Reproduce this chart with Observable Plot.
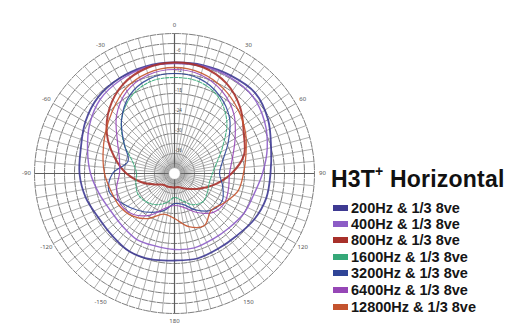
<!DOCTYPE html>
<html>
<head>
<meta charset="utf-8">
<script src="https://cdn.jsdelivr.net/npm/d3@7"></script>
<script src="https://cdn.jsdelivr.net/npm/@observablehq/plot@0.6"></script>
<style>
  html, body { margin: 0; padding: 0; background: #fff; }
  #wrap { position: relative; width: 508px; height: 325px; overflow: hidden; font-family: "Liberation Sans", Arial, sans-serif; }
  #title { position: absolute; left: 331px; top: 166px; font-size: 23px; font-weight: bold; color: #111; white-space: nowrap; letter-spacing: 0.2px; }
  #title sup { font-size: 14px; position: relative; top: -3px; vertical-align: top; }
  .row { position: absolute; left: 333px; height: 16px; display: flex; align-items: center; white-space: nowrap; font-size: 14.5px; font-weight: bold; color: #151515; }
  .sw { width: 15px; height: 6px; margin-right: 3px; }
</style>
</head>
<body>
<div id="wrap"></div>
<script>
// Angles (degrees, clockwise from front/top)
const angles = [0,15,30,45,60,75,90,105,120,135,150,165,180,195,210,225,240,255,270,285,300,315,330,345];

// Series (dB, relative; center of chart = -42 dB, outer ring = 0 dB)
const s200   = [-8.7,-8.4,-8.1,-7.8,-9.6,-12.0,-13.2,-13.5,-14.4,-15.6,-15.9,-15.6,-15.9,-15.3,-15.0,-15.6,-15.6,-14.4,-13.5,-12.9,-11.1,-9.6,-9.0,-8.7];
const s400   = [-9.0,-8.7,-8.7,-9.0,-10.8,-13.2,-15.6,-17.4,-18.0,-18.9,-19.2,-18.9,-19.2,-19.5,-19.2,-19.8,-19.8,-18.6,-16.8,-15.0,-12.6,-10.5,-9.6,-9.0];
const s800   = [-8.7,-9.0,-10.8,-14.1,-18.0,-20.4,-24.9,-29.4,-33.0,-35.4,-36.9,-37.8,-37.8,-37.8,-37.5,-37.2,-35.4,-31.8,-27.6,-23.4,-18.6,-14.4,-11.1,-9.3];
const s1600  = [-13.2,-13.5,-15.6,-19.8,-25.2,-28.8,-30.6,-31.2,-30.6,-30.0,-31.2,-33.6,-34.8,-33.0,-31.2,-30.0,-29.4,-30.0,-30.6,-29.1,-24.6,-19.5,-15.6,-13.5];
const s3200  = [-12.0,-12.6,-15.0,-18.6,-23.4,-27.0,-28.5,-27.0,-25.5,-26.4,-29.4,-32.4,-33.0,-30.6,-28.5,-26.4,-24.0,-21.6,-23.4,-27.6,-24.6,-19.5,-15.0,-12.6];
const s6400  = [-10.8,-11.4,-13.5,-16.8,-21.0,-24.0,-25.5,-25.2,-24.6,-25.5,-28.5,-31.5,-32.4,-31.2,-27.6,-24.6,-23.4,-24.0,-25.5,-24.9,-22.2,-17.4,-13.5,-11.4];
const s12800 = [-10.2,-10.8,-12.6,-15.0,-17.4,-19.8,-21.3,-22.2,-24.6,-26.4,-24.0,-25.5,-28.5,-29.4,-26.4,-24.0,-22.8,-22.2,-21.0,-19.8,-18.0,-15.6,-12.6,-10.8];

const seriesNames = ["200Hz & 1/3 8ve","400Hz & 1/3 8ve","800Hz & 1/3 8ve","1600Hz & 1/3 8ve","3200Hz & 1/3 8ve","6400Hz & 1/3 8ve","12800Hz & 1/3 8ve"];
const seriesValues = [s200, s400, s800, s1600, s3200, s6400, s12800];
const seriesColors = ["#3e3a92","#8c5cc6","#a8302a","#35a878","#2f4597","#9646b6","#c4532e"];
const seriesWidths = [1.8, 1.4, 2.0, 1.1, 1.2, 1.2, 1.3];
const seriesDash = [null, null, null, "3,1.5", null, null, null];

// Grid definitions
const ringLevels = [-39,-36,-33,-30,-27,-24,-21,-18,-15,-12,-9,-6,-3,0];
const spokeAngles = d3.range(0, 360, 5);
const angleTicks = [0,30,60,90,120,150,180,210,240,270,300,330];
const angleTickLabels = ["0","30","60","90","120","150","180","-150","-120","-90","-60","-30"];
const dbTickLevels = [-36,-30,-24,-18,-12,-6];

const MIN = -42;
const rad = (a) => a * Math.PI / 180;
const px = (a, v) => (v - MIN) * Math.sin(rad(a));
const py = (a, v) => (v - MIN) * Math.cos(rad(a));

// Build tables
const curveData = [];
seriesNames.forEach((name, i) => {
  angles.forEach((a, j) => curveData.push({series: name, angle: a, level: seriesValues[i][j]}));
});
const ringData = [];
ringLevels.forEach(l => d3.range(0, 360, 2).forEach(a => ringData.push({level: l, angle: a})));
const spokeData = spokeAngles.map(a => ({angle: a, major: a % 90 === 0, mid: a % 30 === 0}));
const tickData = angleTicks.map((a, i) => ({angle: a, label: angleTickLabels[i]}));
const dbData = dbTickLevels.map(l => ({level: l, label: String(l)}));

const marks = [
  Plot.line(ringData, {x: d => px(d.angle, d.level), y: d => py(d.angle, d.level), z: "level", curve: "linear-closed", stroke: "#7e7e7e", strokeWidth: 1, strokeDasharray: "6,1.5"}),
  Plot.link(spokeData, {x1: d => px(d.angle, MIN + 1.2), y1: d => py(d.angle, MIN + 1.2), x2: d => px(d.angle, 0), y2: d => py(d.angle, 0),
    stroke: d => d.major ? "#5e5e5e" : "#8e8e8e", strokeWidth: d => d.major ? 1.2 : (d.mid ? 0.9 : 0.7)}),
  Plot.dot([{a: 0}], {x: () => 0, y: () => 0, r: 5.5, fill: "white", stroke: "#ddd", strokeWidth: 0.5}),
  Plot.text(tickData, {x: d => px(d.angle, 2.4), y: d => py(d.angle, 2.4), text: "label", fontSize: 6, fill: "#555"}),
  Plot.text(dbData, {x: d => px(0, d.level), y: d => py(0, d.level), text: "label", fontSize: 4.5, fill: "#444", dx: 4, dy: -3})
];
seriesNames.forEach((name, i) => {
  marks.push(Plot.line(curveData.filter(d => d.series === name), {
    x: d => px(d.angle, d.level), y: d => py(d.angle, d.level),
    curve: "catmull-rom-closed", stroke: seriesColors[i], strokeWidth: seriesWidths[i], strokeOpacity: 0.9,
    strokeDasharray: seriesDash[i]
  }));
});

const chart = Plot.plot({
  width: 508, height: 325,
  marginLeft: 34, marginRight: 194, marginTop: 33, marginBottom: 12,
  x: {domain: [-42, 42], axis: null},
  y: {domain: [-42, 42], axis: null},
  style: {background: "white", overflow: "visible"},
  marks
});

const wrap = document.getElementById("wrap");
chart.style.position = "absolute";
chart.style.left = "0px";
chart.style.top = "0px";
wrap.appendChild(chart);

const title = document.createElement("div");
title.id = "title";
title.innerHTML = "H3T<sup>+</sup> Horizontal";
wrap.appendChild(title);

const rowTops = [200, 215.5, 232, 249, 265, 282, 299];
seriesNames.forEach((name, i) => {
  const row = document.createElement("div");
  row.className = "row";
  row.style.top = rowTops[i] + "px";
  const sw = document.createElement("div");
  sw.className = "sw";
  sw.style.background = seriesColors[i];
  row.appendChild(sw);
  const t = document.createElement("span");
  t.textContent = name;
  row.appendChild(t);
  wrap.appendChild(row);
});
</script>
</body>
</html>
